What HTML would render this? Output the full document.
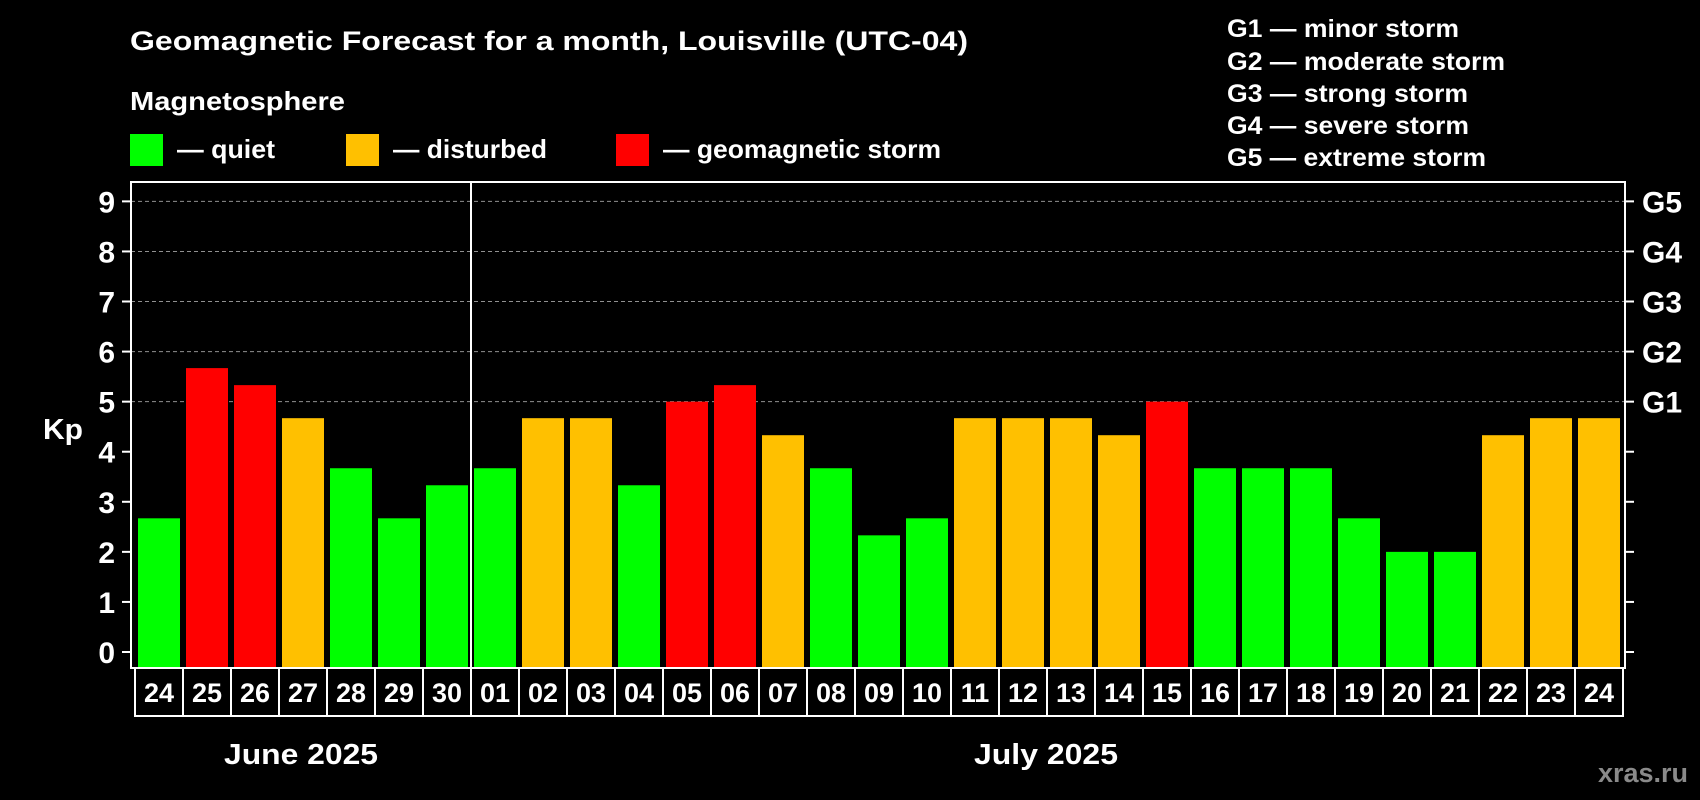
<!DOCTYPE html>
<html><head><meta charset="utf-8"><style>
html,body{margin:0;padding:0;background:#000;}
svg{display:block;font-family:"Liberation Sans",Arial,sans-serif;font-weight:bold;}
</style></head><body>
<svg id="chart" width="1700" height="800" viewBox="0 0 1700 800">
<rect x="0" y="0" width="1700" height="800" fill="#000"/>
<text x="130" y="50" fill="#fff" font-size="27" textLength="838" lengthAdjust="spacingAndGlyphs">Geomagnetic Forecast for a month, Louisville (UTC-04)</text>
<text x="130" y="110" fill="#fff" font-size="26" textLength="215" lengthAdjust="spacingAndGlyphs">Magnetosphere</text>
<g>
<rect x="130" y="134" width="33" height="32" fill="#00ff00"/>
<text x="177" y="158" fill="#fff" font-size="26" textLength="98" lengthAdjust="spacingAndGlyphs">— quiet</text></g>
<g>
<rect x="346" y="134" width="33" height="32" fill="#ffc000"/>
<text x="393" y="158" fill="#fff" font-size="26" textLength="154" lengthAdjust="spacingAndGlyphs">— disturbed</text></g>
<g>
<rect x="616" y="134" width="33" height="32" fill="#ff0000"/>
<text x="663" y="158" fill="#fff" font-size="26" textLength="278" lengthAdjust="spacingAndGlyphs">— geomagnetic storm</text></g>
<g font-size="25" fill="#fff">
<text x="1227" y="37" textLength="232" lengthAdjust="spacingAndGlyphs">G1 — minor storm</text>
<text x="1227" y="70" textLength="278" lengthAdjust="spacingAndGlyphs">G2 — moderate storm</text>
<text x="1227" y="102" textLength="241" lengthAdjust="spacingAndGlyphs">G3 — strong storm</text>
<text x="1227" y="134" textLength="242" lengthAdjust="spacingAndGlyphs">G4 — severe storm</text>
<text x="1227" y="166" textLength="259" lengthAdjust="spacingAndGlyphs">G5 — extreme storm</text>
</g>
<text x="43" y="439" fill="#fff" font-size="29" textLength="40" lengthAdjust="spacingAndGlyphs">Kp</text>
<g id="grid"></g><g id="bars"></g><g id="axes"></g>
<text x="301" y="764" fill="#fff" font-size="29" text-anchor="middle" textLength="154" lengthAdjust="spacingAndGlyphs">June 2025</text>
<text x="1046" y="764" fill="#fff" font-size="29" text-anchor="middle" textLength="144" lengthAdjust="spacingAndGlyphs">July 2025</text>
<text x="1688" y="782" fill="#8a8a8a" font-size="27" text-anchor="end">xras.ru</text>
</svg>
<script>
const days = ["24","25","26","27","28","29","30","01","02","03","04","05","06","07","08","09","10","11","12","13","14","15","16","17","18","19","20","21","22","23","24"];
const kpValues = [2.67,5.67,5.33,4.67,3.67,2.67,3.33,3.67,4.67,4.67,3.33,5,5.33,4.33,3.67,2.33,2.67,4.67,4.67,4.67,4.33,5,3.67,3.67,3.67,2.67,2,2,4.33,4.67,4.67];
const yTicks = [0,1,2,3,4,5,6,7,8,9];
const gLabels = ["G1","G2","G3","G4","G5"];
const gLevels = [5,6,7,8,9];
const monthBreakIndex = 7;

const NS = "http://www.w3.org/2000/svg";
const PL = 131, PR = 1625, PT = 182, PB = 668;
const X0 = 135, STEP = 48, BW = 42;
const y = v => 652 - v * 50.07;
const xBar = i => X0 + 3 + i * STEP;
const color = v => v >= 5 ? "#ff0000" : (v >= 4 ? "#ffc000" : "#00ff00");
function mk(tag, attrs, parent) {
  const e = document.createElementNS(NS, tag);
  for (const k in attrs) e.setAttribute(k, attrs[k]);
  parent.appendChild(e); return e;
}
const grid = document.getElementById("grid"), bars = document.getElementById("bars"), axes = document.getElementById("axes");

gLevels.forEach((lv, i) => {
  const l = mk("line", {x1: PL, x2: PR, y1: y(lv), y2: y(lv), stroke: "#909090", "stroke-width": 1, "stroke-dasharray": "4,3"}, grid);
  
  
  const t = mk("text", {x: 1642, y: y(lv) + 11, fill: "#fff", "font-size": 30}, axes);
  t.textContent = gLabels[i];
  
  
});

kpValues.forEach((v, i) => {
  const r = mk("rect", {x: xBar(i), y: y(v), width: BW, height: PB - y(v), fill: color(v)}, bars);
  
  
});

yTicks.forEach(t => {
  const l = mk("line", {x1: PL - 9, x2: PL, y1: y(t), y2: y(t), stroke: "#fff", "stroke-width": 2}, axes);
  
  
  const r = mk("line", {x1: PR, x2: PR + 9, y1: y(t), y2: y(t), stroke: "#fff", "stroke-width": 2}, axes);
  
  
  const tx = mk("text", {x: 115, y: y(t) + 11, fill: "#fff", "font-size": 30, "text-anchor": "end"}, axes);
  tx.textContent = t;
  
  
});

const frame = mk("rect", {x: PL, y: PT, width: PR - PL, height: PB - PT, fill: "none", stroke: "#fff", "stroke-width": 2}, axes);


const sepX = X0 + monthBreakIndex * STEP;
const sep = mk("line", {x1: sepX, x2: sepX, y1: PT, y2: PB, stroke: "#fff", "stroke-width": 2}, axes);



days.forEach((d, i) => {
  const b = mk("rect", {x: X0 + i * STEP, y: PB, width: STEP, height: 48, fill: "none", stroke: "#fff", "stroke-width": 2}, axes);
  
  
  const t = mk("text", {x: X0 + i * STEP + STEP / 2, y: PB + 34, fill: "#fff", "font-size": 27, "text-anchor": "middle"}, axes);
  t.textContent = d;
  
  
});
</script>
</body></html>
